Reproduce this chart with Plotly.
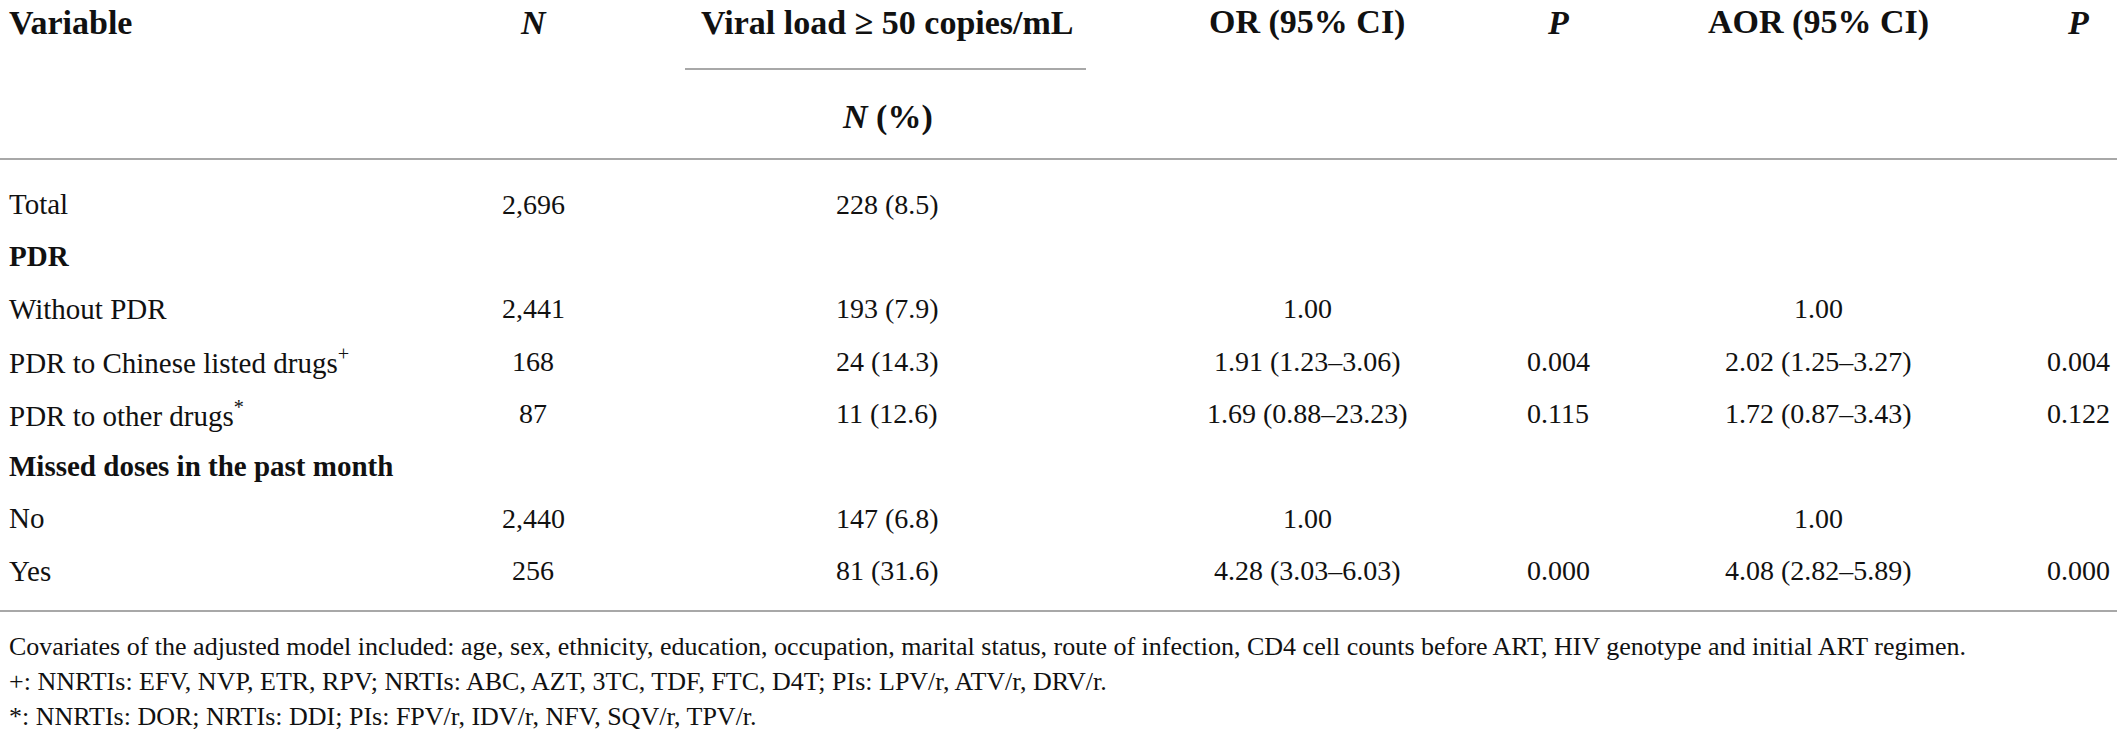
import plotly.graph_objects as go

# ---- data ----
headers = ["Variable", "<i>N</i>", "Viral load ≥ 50 copies/mL", "OR (95% CI)", "<i>P</i>", "AOR (95% CI)", "<i>P</i>"]
subheader = "<i>N</i> (%)"
variables = ["Total", "PDR", "Without PDR", "PDR to Chinese listed drugs<sup>+</sup>",
             "PDR to other drugs<sup>*</sup>", "Missed doses in the past month", "No", "Yes"]
bold_rows = [False, True, False, False, False, True, False, False]
n_vals = ["2,696", "", "2,441", "168", "87", "", "2,440", "256"]
viral_load = ["228 (8.5)", "", "193 (7.9)", "24 (14.3)", "11 (12.6)", "", "147 (6.8)", "81 (31.6)"]
or_ci = ["", "", "1.00", "1.91 (1.23–3.06)", "1.69 (0.88–23.23)", "", "1.00", "4.28 (3.03–6.03)"]
p_or = ["", "", "", "0.004", "0.115", "", "", "0.000"]
aor_ci = ["", "", "1.00", "2.02 (1.25–3.27)", "1.72 (0.87–3.43)", "", "1.00", "4.08 (2.82–5.89)"]
p_aor = ["", "", "", "0.004", "0.122", "", "", "0.000"]
footnotes = [
    "Covariates of the adjusted model included: age, sex, ethnicity, education, occupation, marital status, route of infection, CD4 cell counts before ART, HIV genotype and initial ART regimen.",
    "+: NNRTIs: EFV, NVP, ETR, RPV; NRTIs: ABC, AZT, 3TC, TDF, FTC, D4T; PIs: LPV/r, ATV/r, DRV/r.",
    "*: NNRTIs: DOR; NRTIs: DDI; PIs: FPV/r, IDV/r, NFV, SQV/r, TPV/r.",
]

# ---- layout (pixel-like axis units) ----
W, H = 2117, 737
FONT = "Liberation Serif, Times New Roman, serif"
TXT = "#111111"
RULE = "#a8a8a8"
col_x = [7, 533, 887, 1307, 1558, 1818, 2078]
col_anchor = ["left", "center", "center", "center", "center", "center", "center"]
header_y = 22
sub_y = 117
row_y0, row_dy = 204, 52.4
foot_y0, foot_dy = 646, 35

columns = [variables, n_vals, viral_load, or_ci, p_or, aor_ci, p_aor]

fig = go.Figure()
ann = []
for j, h in enumerate(headers):
    ann.append(dict(x=col_x[j], y=header_y, text="<b>" + h + "</b>", xanchor=col_anchor[j],
                    yanchor="middle", font=dict(size=34, family=FONT, color=TXT)))
ann.append(dict(x=col_x[2], y=sub_y, text="<b>" + subheader + "</b>", xanchor="center",
                yanchor="middle", font=dict(size=34, family=FONT, color=TXT)))
for i in range(len(variables)):
    y = row_y0 + row_dy * i
    for j, col in enumerate(columns):
        t = col[i]
        if not t:
            continue
        if j == 0 and bold_rows[i]:
            t = "<b>" + t + "</b>"
        ann.append(dict(x=col_x[j], y=y, text=t, xanchor=col_anchor[j], yanchor="middle",
                        font=dict(size=29 if j == 0 else 28, family=FONT, color=TXT)))
for k, f in enumerate(footnotes):
    ann.append(dict(x=7, y=foot_y0 + foot_dy * k, text=f, xanchor="left", yanchor="middle",
                    font=dict(size=26, family=FONT, color=TXT)))

shapes = [
    dict(type="line", x0=685, x1=1086, y0=69, y1=69, line=dict(color=RULE, width=2)),
    dict(type="line", x0=0, x1=W, y0=159, y1=159, line=dict(color=RULE, width=2)),
    dict(type="line", x0=0, x1=W, y0=611, y1=611, line=dict(color=RULE, width=2)),
]

fig.update_layout(
    width=W, height=H, margin=dict(l=0, r=0, t=0, b=0),
    paper_bgcolor="white", plot_bgcolor="white",
    xaxis=dict(range=[0, W], visible=False, fixedrange=True),
    yaxis=dict(range=[H, 0], visible=False, fixedrange=True),
    annotations=ann, shapes=shapes, showlegend=False,
)
for a in fig.layout.annotations:
    a.showarrow = False

fig.write_html("out.html", config={"displayModeBar": False},
               post_script="document.body.style.margin='0';document.body.style.overflow='hidden';")
